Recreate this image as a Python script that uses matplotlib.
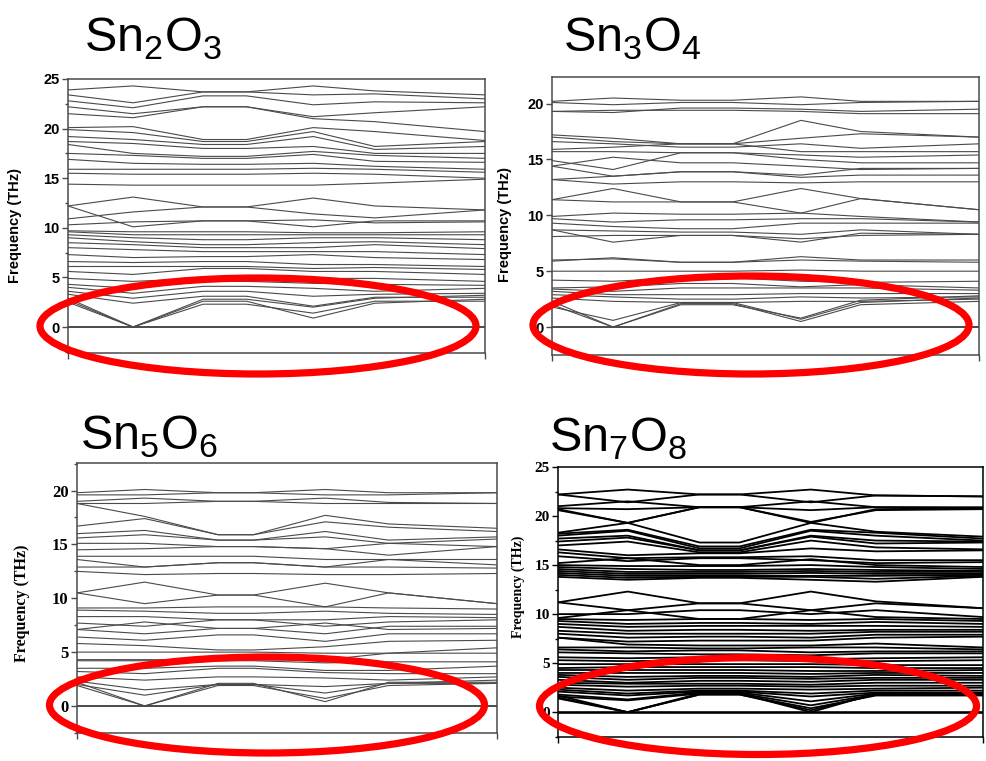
import matplotlib
matplotlib.use('Agg')
import matplotlib.pyplot as plt
from matplotlib.patches import Ellipse
from matplotlib.ticker import MultipleLocator

plt.rcParams['mathtext.fontset'] = 'custom'
plt.rcParams['mathtext.rm'] = 'Liberation Sans'

# k-path positions (fraction of the x axis) for each structure
k_sn2o3 = [0, 0.156, 0.324, 0.428, 0.588, 0.736, 1.0]
k_sn3o4 = [0, 0.143, 0.302, 0.423, 0.583, 0.723, 1.0]
k_sn5o6 = [0, 0.161, 0.336, 0.420, 0.591, 0.742, 1.0]
k_sn7o8 = [0, 0.164, 0.333, 0.427, 0.595, 0.748, 1.0]

# phonon branches (THz) read at those k-points
bands_sn2o3 = [
    [23.9, 24.3, 23.7, 23.7, 24.3, 23.8, 23.4],
    [23.4, 22.6, 23.7, 23.7, 23.4, 23.5, 23.0],
    [22.8, 22.1, 23.3, 23.3, 22.4, 22.7, 22.6],
    [22.2, 21.5, 22.2, 22.2, 21.2, 21.6, 22.2],
    [21.5, 21.1, 22.2, 22.2, 21.0, 20.7, 19.7],
    [20.1, 20.2, 18.9, 18.9, 20.1, 19.7, 18.8],
    [19.9, 19.6, 18.7, 18.7, 19.7, 18.2, 18.7],
    [19.2, 18.9, 18.4, 18.4, 19.2, 17.9, 18.2],
    [18.7, 18.5, 18.0, 18.0, 18.2, 17.5, 17.5],
    [18.4, 17.5, 17.2, 17.2, 17.7, 17.3, 17.0],
    [17.5, 17.3, 17.0, 17.0, 17.4, 16.7, 16.6],
    [16.9, 16.5, 16.4, 16.4, 16.5, 16.2, 15.9],
    [15.9, 15.9, 15.9, 15.9, 16.0, 15.9, 15.6],
    [15.5, 15.4, 15.4, 15.4, 15.5, 15.4, 15.0],
    [14.4, 14.3, 14.3, 14.3, 14.3, 14.5, 14.9],
    [12.2, 13.1, 12.1, 12.1, 13.0, 12.2, 11.8],
    [10.9, 11.6, 12.1, 12.1, 11.4, 11.0, 11.8],
    [12.2, 10.1, 10.7, 10.7, 10.1, 10.7, 10.7],
    [10.3, 10.6, 10.7, 10.7, 10.8, 10.5, 10.6],
    [9.7, 9.6, 9.6, 9.6, 9.5, 9.5, 9.6],
    [9.6, 9.3, 9.3, 9.3, 9.3, 9.3, 9.3],
    [9.3, 9.0, 8.8, 8.8, 9.0, 9.0, 8.8],
    [9.0, 8.6, 8.3, 8.3, 8.5, 8.6, 8.3],
    [8.5, 8.3, 8.0, 8.0, 8.0, 8.3, 7.9],
    [8.0, 7.8, 7.6, 7.6, 7.6, 7.6, 7.3],
    [7.3, 7.0, 7.1, 7.1, 7.3, 7.0, 6.8],
    [6.6, 6.5, 6.6, 6.6, 6.3, 6.3, 6.1],
    [6.1, 6.1, 6.1, 6.1, 5.9, 6.0, 5.8],
    [5.6, 5.3, 5.9, 5.9, 5.6, 5.6, 5.3],
    [4.9, 4.6, 4.9, 4.9, 4.9, 4.9, 4.6],
    [4.3, 3.9, 4.6, 4.6, 4.4, 4.3, 4.2],
    [4.0, 3.4, 4.1, 4.1, 3.9, 3.6, 3.9],
    [3.6, 2.9, 3.6, 3.6, 3.1, 3.3, 3.4],
    [3.3, 2.4, 3.1, 3.1, 2.1, 3.0, 3.0],
    [2.9, 0.0, 2.3, 2.3, 1.4, 2.6, 2.6],
    [2.7, 0.0, 2.6, 2.6, 0.9, 2.4, 2.8],
    [2.5, 0.0, 2.8, 2.8, 2.0, 2.9, 3.2],
]

bands_sn3o4 = [
    [20.2, 20.5, 20.3, 20.3, 20.6, 20.2, 20.2],
    [20.1, 19.9, 20.1, 20.1, 19.9, 20.1, 20.2],
    [19.3, 19.2, 19.6, 19.6, 19.5, 19.3, 19.5],
    [19.3, 19.4, 19.4, 19.4, 19.3, 19.1, 19.1],
    [17.2, 16.9, 16.4, 16.4, 18.5, 17.5, 17.0],
    [17.0, 16.6, 16.4, 16.4, 16.9, 17.3, 17.0],
    [16.6, 16.4, 16.1, 16.1, 16.4, 16.0, 16.4],
    [15.9, 16.1, 16.4, 16.4, 15.7, 15.7, 15.7],
    [15.7, 15.7, 15.6, 15.6, 15.4, 15.2, 15.4],
    [14.9, 14.1, 15.6, 15.6, 15.0, 14.7, 14.7],
    [14.4, 15.2, 14.7, 14.7, 14.4, 14.1, 14.2],
    [14.4, 13.5, 13.9, 13.9, 13.6, 14.2, 14.2],
    [13.2, 13.5, 13.9, 13.9, 13.4, 13.6, 13.6],
    [13.2, 12.8, 13.0, 13.0, 12.9, 13.0, 13.0],
    [11.4, 12.4, 11.2, 11.2, 12.4, 11.5, 10.5],
    [11.4, 11.2, 11.2, 11.2, 10.2, 11.5, 10.5],
    [9.9, 10.2, 10.1, 10.1, 10.2, 9.9, 9.4],
    [9.7, 9.4, 9.6, 9.6, 9.7, 9.7, 9.4],
    [9.3, 9.0, 8.8, 8.8, 9.3, 9.3, 9.3],
    [8.7, 8.6, 8.5, 8.5, 8.3, 8.7, 8.3],
    [8.1, 8.2, 8.2, 8.2, 7.9, 8.2, 8.3],
    [8.7, 7.6, 8.2, 8.2, 7.6, 8.4, 8.3],
    [6.0, 6.1, 5.8, 5.8, 6.3, 6.0, 6.0],
    [5.9, 6.2, 5.8, 5.8, 6.0, 5.9, 5.8],
    [5.0, 5.0, 5.0, 5.0, 5.1, 5.0, 5.0],
    [4.2, 4.1, 4.4, 4.4, 4.1, 4.0, 4.1],
    [3.5, 3.6, 3.9, 3.9, 3.6, 3.8, 3.5],
    [3.4, 3.2, 3.5, 3.5, 3.5, 3.5, 3.3],
    [3.2, 2.9, 2.9, 2.9, 3.0, 3.0, 3.0],
    [2.9, 2.7, 2.5, 2.5, 2.7, 2.6, 2.7],
    [2.6, 2.3, 2.2, 2.2, 2.3, 2.3, 2.5],
    [2.0, 0.0, 2.1, 2.1, 0.5, 2.0, 2.3],
    [1.8, 0.6, 2.2, 2.2, 0.7, 2.2, 2.6],
    [2.3, 0.0, 2.0, 2.0, 0.8, 2.4, 2.8],
]

bands_sn5o6 = [
    [19.8, 20.1, 19.8, 19.8, 20.1, 19.8, 19.8],
    [19.6, 19.6, 19.8, 19.8, 19.6, 19.6, 19.8],
    [19.0, 19.3, 19.0, 19.0, 19.3, 18.9, 18.8],
    [18.8, 18.8, 19.0, 19.0, 18.8, 18.8, 18.8],
    [18.8, 17.6, 15.9, 15.9, 17.7, 16.9, 16.5],
    [16.7, 17.4, 15.9, 15.9, 17.1, 16.6, 16.2],
    [16.0, 16.3, 15.4, 15.4, 16.2, 15.4, 15.7],
    [15.6, 15.9, 15.4, 15.4, 15.7, 15.1, 15.5],
    [15.1, 15.1, 14.8, 14.8, 14.6, 15.1, 14.8],
    [14.5, 14.6, 14.8, 14.8, 14.6, 14.0, 14.8],
    [13.9, 13.9, 13.9, 13.9, 13.6, 13.6, 13.6],
    [13.6, 12.9, 13.3, 13.3, 12.9, 13.6, 13.1],
    [12.9, 12.9, 13.3, 13.3, 12.9, 12.9, 12.8],
    [12.5, 12.2, 12.3, 12.3, 12.2, 12.2, 12.3],
    [10.5, 11.5, 10.3, 10.3, 11.4, 10.5, 9.5],
    [10.5, 9.5, 10.3, 10.3, 9.2, 10.5, 9.5],
    [9.1, 9.1, 9.2, 9.2, 9.2, 9.1, 9.0],
    [8.9, 8.8, 8.6, 8.6, 8.8, 8.6, 8.5],
    [8.3, 8.3, 8.0, 8.0, 8.0, 8.3, 8.2],
    [7.7, 7.4, 8.0, 8.0, 7.4, 7.8, 8.0],
    [7.1, 6.7, 7.2, 7.2, 6.7, 7.4, 7.4],
    [7.1, 7.8, 7.2, 7.2, 7.7, 7.1, 7.2],
    [6.4, 6.1, 6.6, 6.6, 6.0, 6.7, 6.7],
    [5.8, 5.6, 5.2, 5.2, 5.5, 6.0, 6.1],
    [5.0, 5.0, 5.0, 5.0, 4.9, 4.9, 5.4],
    [4.3, 4.3, 4.3, 4.3, 4.3, 4.9, 4.9],
    [4.2, 4.2, 4.2, 4.2, 4.0, 4.1, 4.1],
    [3.5, 3.5, 3.7, 3.7, 3.3, 3.3, 3.7],
    [3.2, 3.0, 3.5, 3.5, 3.1, 3.0, 3.0],
    [2.7, 2.4, 2.7, 2.7, 2.6, 2.4, 2.7],
    [2.3, 1.5, 2.0, 2.0, 1.8, 2.1, 2.4],
    [2.0, 1.0, 2.0, 2.0, 1.2, 2.1, 2.1],
    [2.2, 0.0, 1.9, 1.9, 0.7, 1.9, 2.1],
    [1.9, 0.0, 2.1, 2.1, 0.4, 2.2, 2.2],
]

bands_sn7o8 = [
    [22.2, 22.7, 22.2, 22.2, 22.7, 22.1, 22.0],
    [22.2, 21.4, 22.2, 22.2, 21.4, 22.1, 22.0],
    [21.0, 21.5, 20.9, 20.9, 21.5, 20.9, 20.9],
    [20.8, 20.7, 20.9, 20.9, 20.6, 20.9, 20.8],
    [20.7, 19.3, 20.9, 20.9, 19.4, 20.6, 20.7],
    [20.6, 19.3, 17.3, 17.3, 19.3, 18.4, 17.9],
    [18.3, 19.3, 20.9, 20.9, 19.3, 20.7, 20.8],
    [18.2, 18.6, 16.9, 16.9, 18.6, 18.3, 17.7],
    [18.0, 18.5, 16.7, 16.7, 18.5, 18.0, 17.5],
    [17.7, 18.0, 16.5, 16.5, 18.0, 17.5, 17.4],
    [17.4, 17.8, 16.5, 16.5, 17.9, 17.2, 17.3],
    [17.0, 17.4, 16.3, 16.3, 17.5, 16.8, 16.6],
    [16.6, 16.0, 16.2, 16.2, 16.7, 16.4, 16.5],
    [16.3, 15.7, 15.8, 15.8, 15.9, 15.5, 15.5],
    [15.9, 15.4, 15.7, 15.7, 15.5, 15.2, 15.3],
    [15.2, 15.7, 15.0, 15.0, 15.6, 15.0, 14.8],
    [15.0, 14.9, 14.9, 14.9, 15.0, 14.8, 14.6],
    [14.8, 14.6, 14.5, 14.5, 14.6, 14.5, 14.4],
    [14.6, 14.3, 14.3, 14.3, 14.4, 14.3, 14.3],
    [14.4, 14.1, 14.1, 14.1, 14.2, 14.1, 14.1],
    [14.2, 13.9, 13.9, 13.9, 13.9, 13.9, 14.0],
    [14.0, 13.7, 13.8, 13.8, 13.8, 13.6, 13.9],
    [13.8, 13.5, 13.7, 13.7, 13.5, 13.3, 13.8],
    [11.2, 12.3, 11.1, 11.1, 12.3, 11.3, 10.6],
    [11.2, 10.4, 11.1, 11.1, 10.4, 11.1, 10.6],
    [10.0, 10.0, 10.4, 10.4, 10.0, 10.4, 9.7],
    [9.6, 10.4, 9.5, 9.5, 10.4, 9.7, 9.5],
    [9.5, 9.4, 9.5, 9.5, 9.4, 9.5, 9.3],
    [9.3, 9.0, 9.1, 9.1, 9.0, 9.2, 9.0],
    [9.0, 8.7, 8.8, 8.8, 8.8, 8.8, 8.7],
    [8.7, 8.3, 8.4, 8.4, 8.3, 8.4, 8.4],
    [8.3, 8.0, 8.0, 8.0, 8.0, 8.2, 8.2],
    [8.0, 7.6, 7.7, 7.7, 7.6, 7.9, 7.9],
    [7.6, 7.2, 7.3, 7.3, 7.3, 7.6, 7.7],
    [7.6, 6.9, 6.8, 6.8, 6.8, 7.0, 6.6],
    [6.6, 6.6, 6.5, 6.5, 6.6, 6.6, 6.4],
    [6.4, 6.2, 6.3, 6.3, 6.1, 6.2, 6.2],
    [6.1, 6.0, 5.9, 5.9, 5.8, 6.0, 6.0],
    [5.6, 5.5, 5.6, 5.6, 5.4, 5.5, 5.6],
    [5.3, 5.2, 5.3, 5.3, 5.2, 5.2, 5.3],
    [4.9, 4.9, 4.9, 4.9, 4.9, 4.8, 4.8],
    [4.5, 4.6, 4.6, 4.6, 4.6, 4.5, 4.5],
    [4.3, 4.3, 4.3, 4.3, 4.2, 4.2, 4.3],
    [4.0, 4.0, 4.0, 4.0, 3.9, 4.0, 4.0],
    [3.8, 3.6, 3.7, 3.7, 3.6, 3.8, 3.7],
    [3.6, 3.3, 3.5, 3.5, 3.4, 3.5, 3.5],
    [3.3, 3.0, 3.2, 3.2, 3.1, 3.3, 3.3],
    [3.0, 2.9, 2.9, 2.9, 2.8, 3.0, 3.0],
    [2.8, 2.6, 2.7, 2.7, 2.6, 2.7, 2.7],
    [2.5, 2.2, 2.4, 2.4, 2.3, 2.4, 2.5],
    [2.3, 1.9, 2.2, 2.2, 1.9, 2.2, 2.2],
    [2.1, 1.7, 2.1, 2.1, 1.6, 2.0, 2.0],
    [1.8, 1.3, 2.0, 2.0, 1.1, 1.9, 1.9],
    [1.6, 1.2, 1.9, 1.9, 0.7, 1.8, 1.8],
    [1.4, 0.0, 1.8, 1.8, 0.4, 1.7, 1.7],
    [1.5, 0.0, 1.8, 1.8, 0.2, 1.8, 1.8],
    [1.7, 0.0, 1.9, 1.9, 0.0, 1.9, 1.9],
]

titles = [r'Sn$_\mathrm{2}$O$_\mathrm{3}$', r'Sn$_\mathrm{3}$O$_\mathrm{4}$',
          r'Sn$_\mathrm{5}$O$_\mathrm{6}$', r'Sn$_\mathrm{7}$O$_\mathrm{8}$']

W, H = 986, 761
fig = plt.figure(figsize=(W / 100, H / 100), dpi=100)


def px_axes(left, top, right, bottom):
    return fig.add_axes([left / W, 1 - bottom / H, (right - left) / W, (bottom - top) / H])


def panel(ax, k, bands, ylim, ymax, minor, color, lw, font, size, labsize, labpos):
    for b in bands:
        ax.plot(k, b, color=color, lw=lw, solid_joinstyle='miter')
    ax.axhline(0, color=color, lw=lw + 0.6)
    ax.set_xlim(0, 1)
    ax.set_ylim(ylim)
    ticks = list(range(0, ymax + 1, 5))
    ax.set_yticks(ticks)
    ax.set_yticklabels([str(t) for t in ticks], fontfamily=font,
                       fontweight='bold', fontsize=size)
    if minor:
        ax.yaxis.set_minor_locator(MultipleLocator(minor))
    ax.set_xticks([0, 1])
    ax.set_xticklabels([])
    ax.tick_params(axis='both', which='major', direction='out', length=4,
                   width=1, color=color, pad=2)
    ax.tick_params(axis='y', which='minor', direction='out', length=2.5,
                   width=1, color=color)
    for s in ax.spines.values():
        s.set_color(color)
        s.set_linewidth(1.1)
    ax.set_ylabel('Frequency (THz)', fontfamily=font, fontweight='bold', fontsize=labsize)
    ax.yaxis.set_label_coords(*labpos)


gray = '#4a4a4a'

ax1 = px_axes(68, 79, 485, 353)
panel(ax1, k_sn2o3, bands_sn2o3, (-2.62, 25), 25, 2.5, gray, 0.8,
      'Liberation Sans', 10.5, 10.5, (-0.11, 0.467))

ax2 = px_axes(552, 77, 979, 355)
panel(ax2, k_sn3o4, bands_sn3o4, (-2.5, 22.38), 20, None, gray, 0.8,
      'Liberation Sans', 10.5, 10.5, (-0.094, 0.468))

ax3 = px_axes(77, 463, 497, 733)
panel(ax3, k_sn5o6, bands_sn5o6, (-2.51, 22.56), 20, 2.5, gray, 0.8,
      'Liberation Serif', 12, 11.5, (-0.112, 0.48))

ax4 = px_axes(558, 467, 983, 737)
panel(ax4, k_sn7o8, bands_sn7o8, (-2.53, 25), 25, 2.5, 'black', 1.3,
      'Liberation Serif', 11, 10, (-0.078, 0.556))

# overlay for titles and red ellipses, in pixel coordinates
ov = fig.add_axes([0, 0, 1, 1], zorder=10)
ov.set_xlim(0, W)
ov.set_ylim(H, 0)
ov.axis('off')
ov.patch.set_alpha(0)

title_pos = [(84, 52), (563, 52), (80, 450), (549, 452)]
for (x, y), t in zip(title_pos, titles):
    ov.text(x, y, t, fontsize=35, fontfamily='Liberation Sans', va='baseline', ha='left')

ellipses = [(258, 326, 436, 96), (751, 325, 436, 98), (267, 705, 435, 96), (758, 706, 437, 97)]
for cx, cy, w, h in ellipses:
    ov.add_patch(Ellipse((cx, cy), w, h, fill=False, edgecolor='#ff0000', lw=5.2))

fig.savefig('out.png', dpi=100)
